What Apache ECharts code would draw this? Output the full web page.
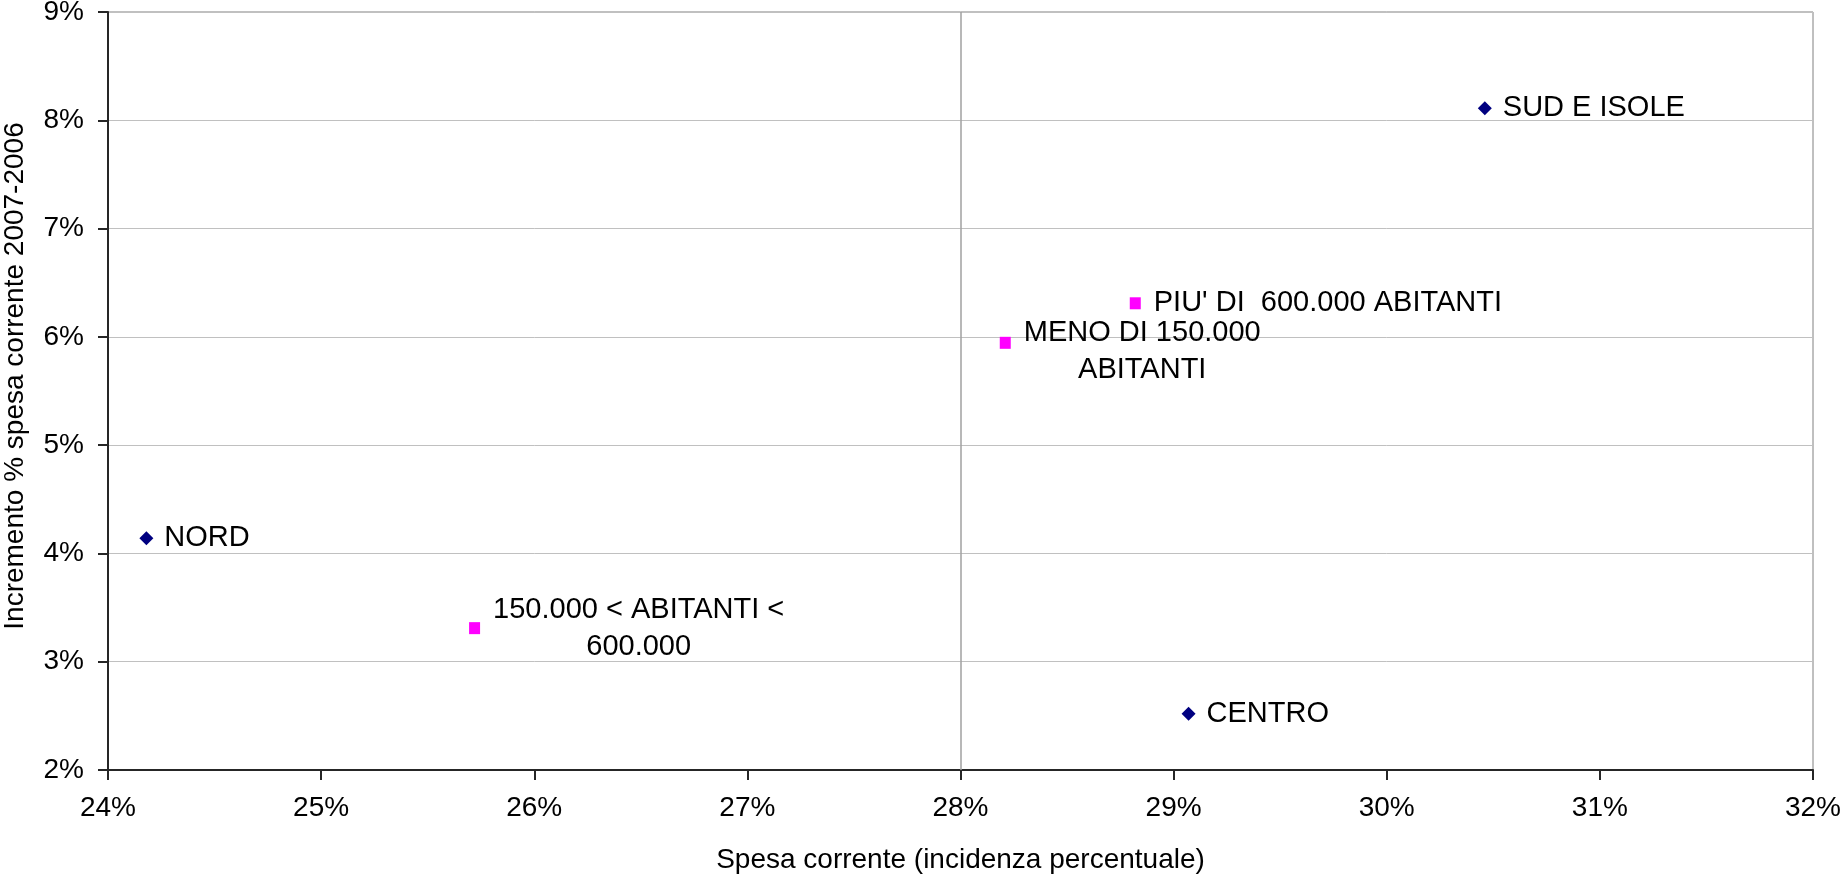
<!DOCTYPE html>
<html>
<head>
<meta charset="utf-8">
<script src="https://cdn.jsdelivr.net/npm/echarts@6/dist/echarts.min.js"></script>
<style>
html,body{margin:0;padding:0;background:#fff;}
#chart{width:1845px;height:880px;}
</style>
</head>
<body>
<div id="chart"></div>
<script>
// Aree geografiche (rombi blu)
const areaNames = ['NORD', 'CENTRO', 'SUD E ISOLE'];
const areaX = [24.18, 29.07, 30.46];
const areaY = [4.14, 2.52, 8.11];
// Classi demografiche (quadrati magenta)
const sizeNames = ['150.000 < ABITANTI <\n600.000', 'MENO DI 150.000\nABITANTI', "PIU' DI  600.000 ABITANTI"];
const sizeX = [25.72, 28.21, 28.82];
const sizeY = [3.31, 5.945, 6.31];
// Assi
const xMin = 24, xMax = 32, xStep = 1;
const yMin = 2, yMax = 9, yStep = 1;
const xTitle = 'Spesa corrente (incidenza percentuale)';
const yTitle = 'Incremento % spesa corrente 2007-2006';
const refLineX = 28;

const FONT = '"Liberation Sans", Arial, sans-serif';

function pts(names, xs, ys) {
  return names.map((n, i) => ({ name: n, value: [xs[i], ys[i]] }));
}

const chart = echarts.init(document.getElementById('chart'));
chart.setOption({
  animation: false,
  backgroundColor: '#ffffff',
  textStyle: { fontFamily: FONT },
  grid: {
    left: 108, right: 32, top: 12, bottom: 110,
    containLabel: false, outerBoundsMode: 'none',
    show: true, borderColor: '#808080', borderWidth: 1, backgroundColor: 'transparent'
  },
  xAxis: {
    type: 'value', min: xMin, max: xMax, interval: xStep,
    name: xTitle, nameLocation: 'middle', nameGap: 76,
    nameTextStyle: { fontSize: 28, color: '#000', fontFamily: FONT },
    axisLine: { show: true, lineStyle: { color: '#262626', width: 2 } },
    axisTick: { show: true, length: 10, lineStyle: { color: '#262626', width: 2 } },
    axisLabel: { formatter: '{value}%', fontSize: 28, color: '#000', margin: 24, fontFamily: FONT },
    splitLine: { show: false }
  },
  yAxis: {
    type: 'value', min: yMin, max: yMax, interval: yStep,
    name: yTitle, nameLocation: 'middle', nameGap: 79, nameRotate: 90,
    nameTextStyle: { fontSize: 28, color: '#000', fontFamily: FONT, padding: [0, 0, 0, 30] },
    axisLine: { show: true, lineStyle: { color: '#262626', width: 2 } },
    axisTick: { show: true, length: 10, lineStyle: { color: '#262626', width: 2 } },
    axisLabel: { formatter: '{value}%', fontSize: 28, color: '#000', margin: 24, fontFamily: FONT },
    splitLine: { show: true, lineStyle: { color: '#c0c0c0', width: 1 } }
  },
  series: [
    {
      name: 'Aree',
      type: 'scatter',
      symbol: 'diamond',
      symbolSize: 14,
      itemStyle: { color: '#000080', opacity: 1 },
      data: pts(areaNames, areaX, areaY),
      label: {
        show: true, position: 'right', distance: 11,
        formatter: p => p.name,
        fontSize: 29, color: '#000', fontFamily: FONT
      },
      markLine: {
        silent: true, symbol: 'none',
        label: { show: false },
        lineStyle: { color: '#a0a0a0', width: 1.5, type: 'solid', opacity: 1 },
        data: [{ xAxis: refLineX }]
      },
      z: 3
    },
    {
      name: 'Classi demografiche',
      type: 'scatter',
      symbol: 'rect',
      symbolSize: [11, 12],
      itemStyle: { color: '#ff00ff', opacity: 1 },
      data: pts(sizeNames, sizeX, sizeY),
      label: {
        show: true, position: 'right', distance: 13,
        formatter: p => p.name.split('\n').map(s => '{c|' + s + '}').join('\n'),
        fontSize: 29, color: '#000', fontFamily: FONT, lineHeight: 37,
        rich: { c: { align: 'center', fontSize: 29, lineHeight: 37, color: '#000', fontFamily: FONT } }
      },
      labelLayout: function (p) {
        if (p.dataIndex === 1) return { dy: 9 };
        return {};
      },
      z: 3
    }
  ]
});
</script>
</body>
</html>
